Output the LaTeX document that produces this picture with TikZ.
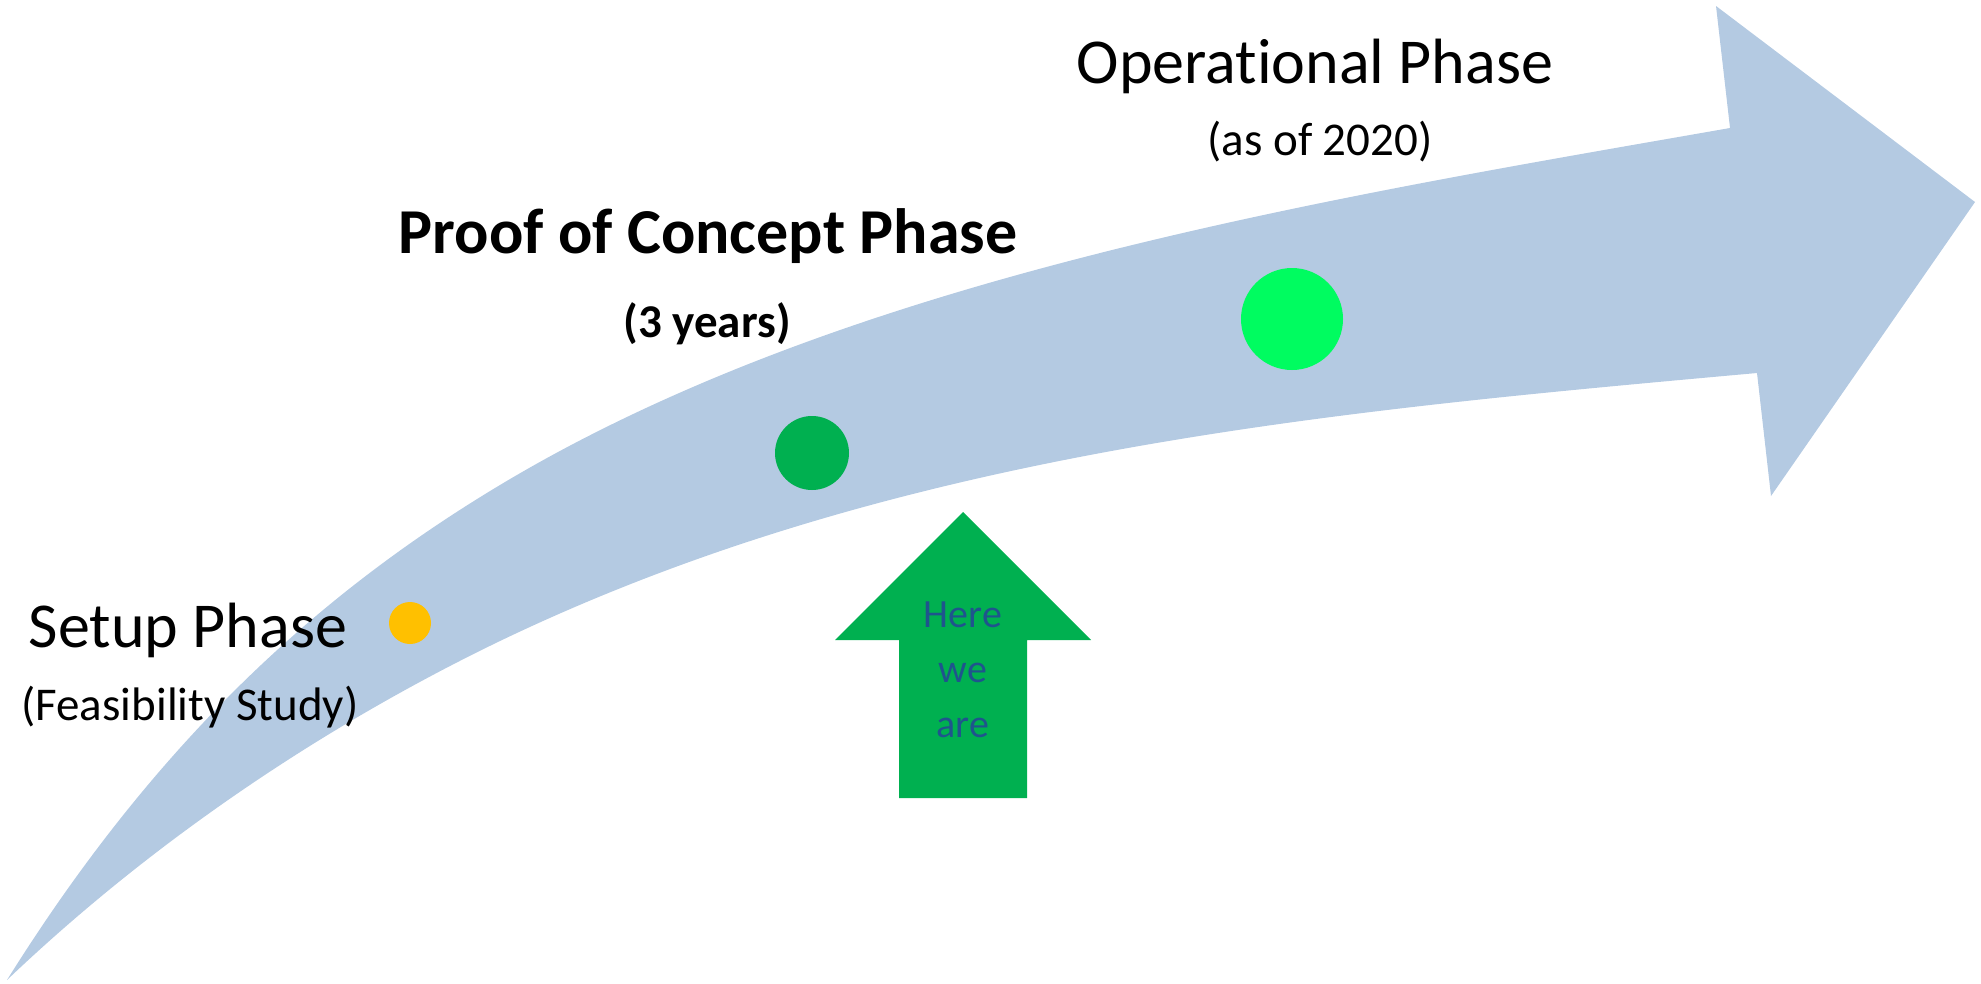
\documentclass[tikz,border=0pt]{standalone}
\usepackage{fontspec}
\setmainfont{Carlito}[Ligatures=NoCommon]

\definecolor{bandblue}{RGB}{180,202,226}
\definecolor{darkgreen}{RGB}{0,176,80}
\definecolor{lightgreen}{RGB}{0,252,96}
\definecolor{dotyellow}{RGB}{255,192,0}
\definecolor{herecol}{RGB}{31,84,141}

\begin{document}
\begin{tikzpicture}[x=1pt,y=-1pt]
    % `phase' is used for the phase titles, `note' for the line under each.
    % `milestone' is used for the dots on the band.
    % `here' is used for the words inside the green arrow.
    \tikzstyle{phase} = [anchor=base,inner sep=0pt,font=\fontsize{64}{70}\selectfont]
    \tikzstyle{note} = [anchor=base,inner sep=0pt,font=\fontsize{47}{52}\selectfont]
    \tikzstyle{boldphase} = [phase,font=\bfseries\fontsize{64}{70}\selectfont]
    \tikzstyle{boldnote} = [note,font=\bfseries\fontsize{47}{52}\selectfont]
    \tikzstyle{milestone} = [shape=circle,inner sep=0pt]
    \tikzstyle{here} = [anchor=base,inner sep=0pt,text=herecol,font=\fontsize{40}{44}\selectfont]
    \useasboundingbox (0,0) rectangle (1981,983);
    %
    % Curved band with its head.
    \coordinate (tail) at (7,980);
    \fill[bandblue] (tail)
      .. controls (157,740) and (320,593) .. (500,485)
      .. controls (850,275) and (1330,198) .. (1730,128)
      -- (1716,6) -- (1975,202) -- (1771,496) -- (1757,373)
      .. controls (1337,411) and (900,449) .. (500,641)
      .. controls (330,723) and (157,837) .. (tail)
      -- cycle;
    %
    % Dots.
    \node[milestone,fill=dotyellow,minimum size=42pt] (setupdot) at (410,623) {};
    \node[milestone,fill=darkgreen,minimum size=74pt] (pocdot) at (812,453) {};
    \node[milestone,fill=lightgreen,minimum size=102pt] (operdot) at (1292,319) {};
    %
    % Labels.
    \node[phase] (setup) at (188,647) {Setup Phase};
    \node[note] (setupnote) at (190,720) {(Feasibility Study)};
    \node[boldphase] (poc) at (708,253) {Proof of Concept Phase};
    \node[boldnote] (pocnote) at (707,337) {(3 years)};
    \node[phase] (oper) at (1315,83) {Operat\kern0pt ional Phase};
    \node[note] (opernote) at (1320,155) {(as of 2020)};
    %
    % Green arrow.
    \fill[darkgreen] (963,512) -- (1091,640) -- (1027,640) -- (1027,798)
      -- (899,798) -- (899,640) -- (835,640) -- cycle;
    \node[here] (here) at (963,627) {Here};
    \node[here] (we) at (963,682) {we};
    \node[here] (are) at (963,737) {are};
\end{tikzpicture}
\end{document}
